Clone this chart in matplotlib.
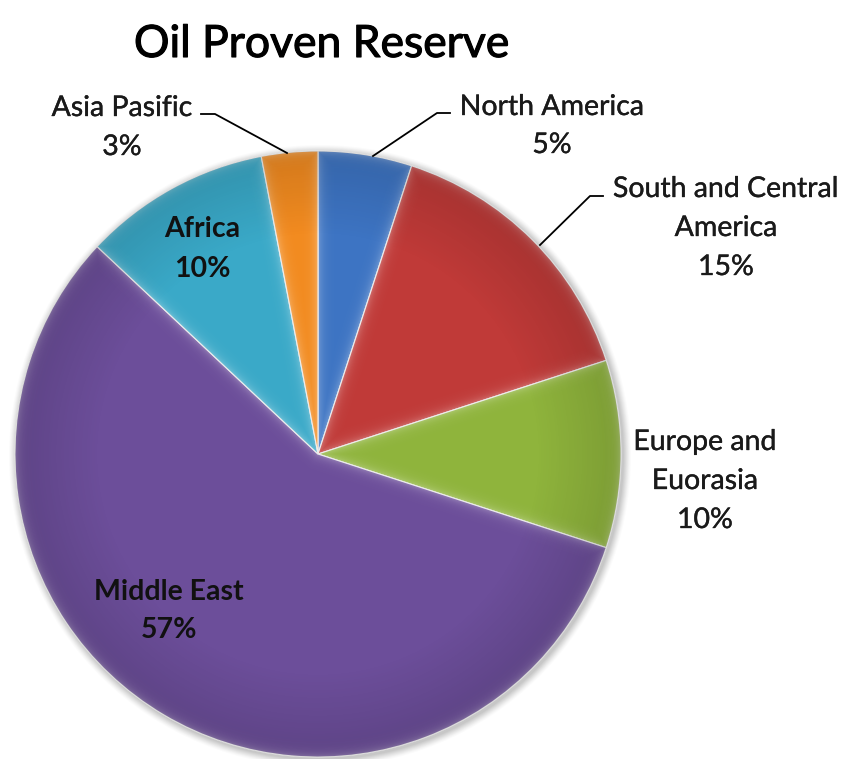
import numpy as np
import matplotlib
matplotlib.use("Agg")
import matplotlib.pyplot as plt
import matplotlib.patheffects as pe
from matplotlib.patches import Circle

# Oil proven reserves by region (share of world total, %)
regions = ["North America", "South and Central\nAmerica", "Europe and\nEuorasia",
           "Middle East", "Africa", "Asia Pasific"]
shares = [5, 15, 10, 57, 10, 3]
colors = ["#3d74c3", "#c03a38", "#8fb43c", "#6c4e9a", "#3aa9c8", "#f28b20"]
title = "Oil Proven Reserve"

W, H = 847, 759
fig = plt.figure(figsize=(W / 100, H / 100), dpi=100)
ax = fig.add_axes([0, 0, 1, 1])
ax.set_xlim(0, W)
ax.set_ylim(0, H)
ax.set_aspect("equal")
ax.axis("off")

cx, cy, R = 318, H - 454, 303

# soft drop shadow around the disc
for k, a in zip(range(8, 0, -1), np.linspace(0.03, 0.10, 8)):
    ax.add_patch(Circle((cx + 2, cy - 2), R + k, color="#808080", alpha=a, lw=0, zorder=1))

wedges, _ = ax.pie(shares, colors=colors, startangle=90, counterclock=False,
                   center=(cx, cy), radius=R, frame=False,
                   wedgeprops=dict(edgecolor="#e8e8e8", linewidth=0.8, zorder=2))
ax.set_xlim(0, W)
ax.set_ylim(0, H)

# bevel shading: light rim along the wedge borders, clipped to each wedge
yy, xx = np.mgrid[0:H, 0:W]
dx = xx + 0.5 - cx
dy = (H - yy - 0.5) - cy
rr = np.hypot(dx, dy)
ang = np.degrees(np.arctan2(dy, dx))


def ray_dist(theta):
    """Distance of every pixel to the ray leaving the centre at angle theta."""
    delta = np.radians(ang - theta)
    proj = rr * np.cos(delta)
    return np.where(proj > 0, np.abs(rr * np.sin(delta)), rr)


rim_dark = np.zeros((H, W, 4))
rim_dark[..., 3] = 0.13 * np.clip((rr - R * 0.72) / (R * 0.28), 0, 1)

for w in wedges:
    d = np.minimum(np.minimum(ray_dist(w.theta1), ray_dist(w.theta2)), np.abs(R - rr))
    shade = np.zeros((H, W, 4))
    shade[..., :3] = 1.0
    shade[..., 3] = 0.28 * np.exp(-d / 4.5)
    im = ax.imshow(shade, extent=(0, W, 0, H), origin="upper", zorder=3,
                   interpolation="bilinear")
    im.set_clip_path(w)
    im2 = ax.imshow(rim_dark, extent=(0, W, 0, H), origin="upper", zorder=3)
    im2.set_clip_path(w)
ax.set_xlim(0, W)
ax.set_ylim(0, H)

font = "Lato"


def label(i, x, baselines, bold=False):
    lines = regions[i].split("\n") + [f"{shares[i]}%"]
    for line, yb in zip(lines, baselines):
        t = ax.text(x, H - yb, line, ha="center", va="baseline", fontsize=20.5,
                    family=font, fontweight="bold" if bold else "normal",
                    color="#111111" if bold else "#1a1a1a", zorder=5)
        if not bold:
            t.set_path_effects([pe.withStroke(linewidth=0.25, foreground="#1a1a1a")])


# outside labels with leader lines
label(0, 552, [115, 153])
ax.plot([373, 437, 450], [H - 156, H - 113, H - 113], color="black", lw=1.3, zorder=4)

label(1, 726, [197, 236, 275])
ax.plot([540, 590, 603], [H - 245, H - 196, H - 196], color="black", lw=1.3, zorder=4)

label(2, 705, [450, 489, 528])

label(5, 122, [116, 155])
ax.plot([287, 215, 201], [H - 153, H - 114, H - 114], color="black", lw=1.3, zorder=4)

# inside labels
label(4, 202, [237, 277], bold=True)
label(3, 169, [600, 638], bold=True)

ax.text(322, H - 57, title, ha="center", va="baseline", fontsize=32,
        family=font, color="black", zorder=5,
        path_effects=[pe.withStroke(linewidth=0.8, foreground="black")])

fig.savefig("out.png", dpi=100)
